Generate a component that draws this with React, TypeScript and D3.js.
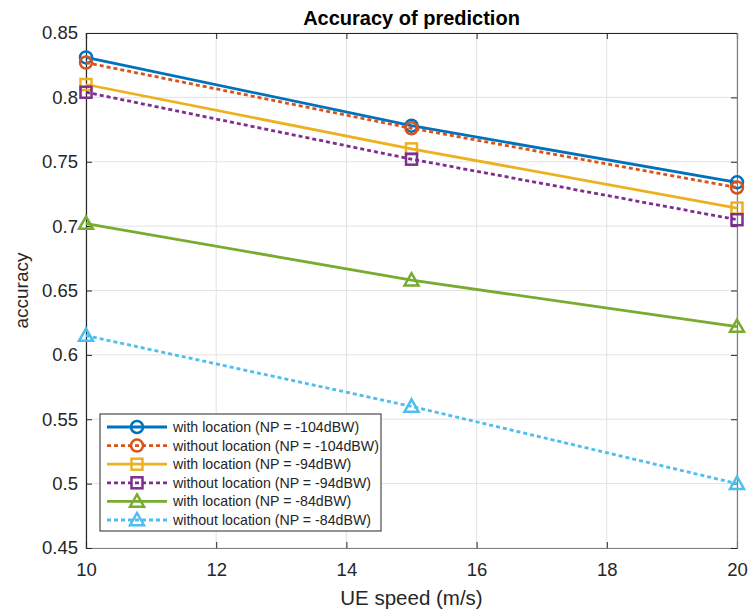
import React, { useRef, useEffect } from 'react';
import * as d3 from 'd3';

const speeds = [10, 15, 20];
const withLoc104 = [0.831, 0.778, 0.734];
const withoutLoc104 = [0.827, 0.776, 0.730];
const withLoc94 = [0.810, 0.760, 0.714];
const withoutLoc94 = [0.804, 0.752, 0.705];
const withLoc84 = [0.702, 0.658, 0.622];
const withoutLoc84 = [0.615, 0.560, 0.500];
const xTicks = [10, 12, 14, 16, 18, 20];
const yTicks = [0.45, 0.5, 0.55, 0.6, 0.65, 0.7, 0.75, 0.8, 0.85];

const series = [
  { name: 'with location (NP = -104dBW)', values: withLoc104, color: '#0072BD', dashed: false, marker: 'circle' },
  { name: 'without location (NP = -104dBW)', values: withoutLoc104, color: '#D95319', dashed: true, marker: 'circle' },
  { name: 'with location (NP = -94dBW)', values: withLoc94, color: '#EDB120', dashed: false, marker: 'square' },
  { name: 'without location (NP = -94dBW)', values: withoutLoc94, color: '#7E2F8E', dashed: true, marker: 'square' },
  { name: 'with location (NP = -84dBW)', values: withLoc84, color: '#77AC30', dashed: false, marker: 'triangle' },
  { name: 'without location (NP = -84dBW)', values: withoutLoc84, color: '#4DBEEE', dashed: true, marker: 'triangle' },
];

const W = 750;
const H = 613;
const margin = { top: 33, right: 13, bottom: 65, left: 86 };

const App = () => {
  const svgRef = useRef<SVGSVGElement>(null);

  useEffect(() => {
    if (!svgRef.current) return;
    const root = d3.select(svgRef.current);
    root.selectAll('*').remove();

    const innerW = W - margin.left - margin.right;
    const innerH = H - margin.top - margin.bottom;
    const font = 'Helvetica, Arial, "Liberation Sans", sans-serif';

    root.append('rect').attr('width', W).attr('height', H).attr('fill', 'white');

    const g = root.append('g').attr('transform', `translate(${margin.left},${margin.top})`);

    const x = d3.scaleLinear().domain([10, 20]).range([0, innerW]);
    const y = d3.scaleLinear().domain([0.45, 0.85]).range([innerH, 0]);

    // grid
    g.append('g')
      .selectAll('line')
      .data(xTicks)
      .join('line')
      .attr('x1', d => x(d)).attr('x2', d => x(d))
      .attr('y1', 0).attr('y2', innerH)
      .attr('stroke', '#e3e3e3').attr('stroke-width', 1);
    g.append('g')
      .selectAll('line')
      .data(yTicks)
      .join('line')
      .attr('x1', 0).attr('x2', innerW)
      .attr('y1', d => y(d)).attr('y2', d => y(d))
      .attr('stroke', '#e3e3e3').attr('stroke-width', 1);

    // axes (inward ticks, box)
    const bottom = g.append('g')
      .attr('transform', `translate(0,${innerH})`)
      .call(d3.axisBottom(x).tickValues(xTicks).tickSize(-6).tickPadding(15).tickFormat(d3.format('d')));
    const left = g.append('g')
      .call(d3.axisLeft(y).tickValues(yTicks).tickSize(-6).tickPadding(8).tickFormat(d => String(+(+d).toFixed(2))));
    const top = g.append('g').call(d3.axisTop(x).tickValues(xTicks).tickSize(-6).tickFormat(() => ''));
    const right = g.append('g')
      .attr('transform', `translate(${innerW},0)`)
      .call(d3.axisRight(y).tickValues(yTicks).tickSize(-6).tickFormat(() => ''));

    [bottom, left, top, right].forEach(a => {
      a.select('.domain').attr('stroke', '#262626').attr('stroke-width', 1.2);
      a.selectAll('.tick line').attr('stroke', '#262626');
      a.selectAll('text').attr('fill', '#262626').attr('font-size', 18.5).attr('font-family', font);
    });
    right.select('.domain').attr('stroke', '#808080');
    bottom.select('.domain').attr('stroke', '#808080');

    // lines
    const line = d3.line<number>()
      .x((_, i) => x(speeds[i]))
      .y(d => y(d));

    const drawMarker = (sel: any, kind: string, color: string, cx: number, cy: number) => {
      if (kind === 'circle') {
        sel.append('circle').attr('cx', cx).attr('cy', cy).attr('r', 6)
          .attr('fill', 'none').attr('stroke', color).attr('stroke-width', 2.5);
      } else if (kind === 'square') {
        sel.append('rect').attr('x', cx - 5.5).attr('y', cy - 5.5).attr('width', 11).attr('height', 11)
          .attr('fill', 'none').attr('stroke', color).attr('stroke-width', 2.5);
      } else {
        const s = 7;
        sel.append('path')
          .attr('d', `M${cx},${cy - s} L${cx + s},${cy + s * 0.75} L${cx - s},${cy + s * 0.75} Z`)
          .attr('fill', 'none').attr('stroke', color).attr('stroke-width', 2.5);
      }
    };

    series.forEach(s => {
      g.append('path')
        .datum(s.values)
        .attr('fill', 'none')
        .attr('stroke', s.color)
        .attr('stroke-width', 2.8)
        .attr('stroke-dasharray', s.dashed ? '4,3' : null)
        .attr('d', line);
      s.values.forEach((v, i) => drawMarker(g, s.marker, s.color, x(speeds[i]), y(v)));
    });

    // legend
    const lg = g.append('g').attr('transform', `translate(${100 - margin.left},${414 - margin.top})`);
    lg.append('rect').attr('width', 281).attr('height', 117)
      .attr('fill', 'white').attr('stroke', '#262626').attr('stroke-width', 1);
    series.forEach((s, i) => {
      const ry = 13 + i * 18.6;
      const row = lg.append('g');
      row.append('line')
        .attr('x1', 7).attr('x2', 67).attr('y1', ry).attr('y2', ry)
        .attr('stroke', s.color).attr('stroke-width', 2.8)
        .attr('stroke-dasharray', s.dashed ? '4,3' : null);
      drawMarker(row, s.marker, s.color, 37, ry);
      row.append('text')
        .attr('x', 73).attr('y', ry).attr('dy', '0.35em')
        .attr('font-size', 14.2).attr('font-family', font).attr('fill', '#262626')
        .text(s.name);
    });

    // title & labels
    root.append('text')
      .attr('x', margin.left + innerW / 2).attr('y', 25)
      .attr('text-anchor', 'middle')
      .attr('font-size', 20).attr('font-weight', 'bold').attr('font-family', font)
      .attr('fill', '#000')
      .text('Accuracy of prediction');
    root.append('text')
      .attr('x', margin.left + innerW / 2).attr('y', 605)
      .attr('text-anchor', 'middle')
      .attr('font-size', 20.5).attr('font-family', font).attr('fill', '#262626')
      .text('UE speed (m/s)');
    root.append('text')
      .attr('transform', `translate(28,${margin.top + innerH / 2}) rotate(-90)`)
      .attr('text-anchor', 'middle')
      .attr('font-size', 19).attr('font-family', font).attr('fill', '#262626')
      .text('accuracy');
  }, []);

  return (
    <svg ref={svgRef} width={W} height={H} style={{ position: 'absolute', left: 0, top: 0, display: 'block' }}></svg>
  );
};

export default App;
